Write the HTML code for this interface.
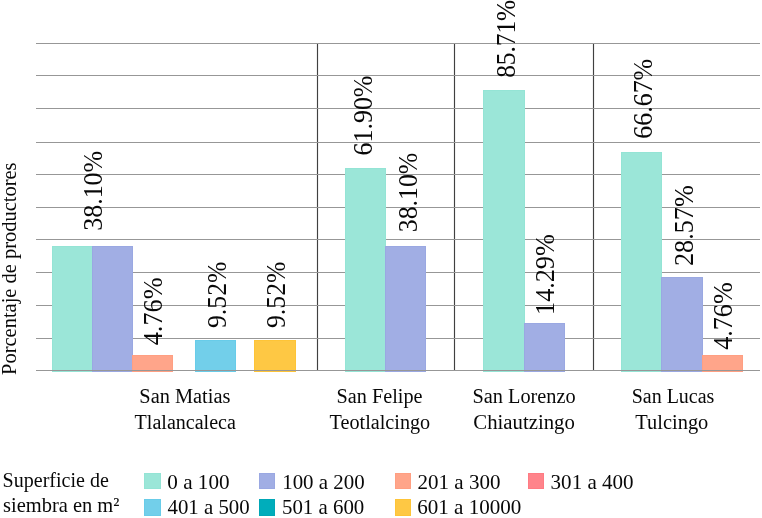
<!DOCTYPE html>
<html lang="es"><head><meta charset="utf-8"><title>Superficie de siembra</title>
<style>html,body{margin:0;padding:0;background:#fff}body{width:762px;height:518px;overflow:hidden}svg{display:block}text{font-family:"Liberation Serif",serif;fill:#080808}.v{font-size:26.6px}.c{font-size:21.6px;text-anchor:middle}.l{font-size:20.6px}</style></head><body>
<svg width="762" height="518" viewBox="0 0 762 518">
<rect width="762" height="518" fill="#fff"/>
<g fill="#404040">
<rect x="316.92" y="44" width="1.16" height="326.5"/>
<rect x="453.92" y="44" width="1.16" height="326.5"/>
<rect x="592.92" y="44" width="1.16" height="326.5"/>
</g>
<g fill="#979797">
<rect x="36" y="43" width="724" height="1"/>
<rect x="36" y="75" width="724" height="1"/>
<rect x="36" y="108" width="724" height="1"/>
<rect x="36" y="142" width="724" height="1"/>
<rect x="36" y="174" width="724" height="1"/>
<rect x="36" y="207" width="724" height="1"/>
<rect x="36" y="239" width="724" height="1"/>
<rect x="36" y="272" width="724" height="1"/>
<rect x="36" y="305" width="724" height="1"/>
<rect x="36" y="338" width="724" height="1"/>
</g>
<rect x="52.5" y="246.5" width="40" height="125" fill="#9be6d8" stroke="#94e4d5"/>
<rect x="92.5" y="246.5" width="40" height="125" fill="#a1aee4" stroke="#9aa8e2"/>
<rect x="132.5" y="355.5" width="40" height="16" fill="#ffa58a" stroke="#ff9f82"/>
<rect x="195.5" y="340.5" width="40" height="31" fill="#72cfea" stroke="#68cce9"/>
<rect x="254.5" y="340.5" width="41" height="31" fill="#fec844" stroke="#fec437"/>
<rect x="345.5" y="168.5" width="40" height="203" fill="#9be6d8" stroke="#94e4d5"/>
<rect x="385.5" y="246.5" width="40" height="125" fill="#a1aee4" stroke="#9aa8e2"/>
<rect x="483.5" y="90.5" width="41" height="281" fill="#9be6d8" stroke="#94e4d5"/>
<rect x="524.5" y="323.5" width="40" height="48" fill="#a1aee4" stroke="#9aa8e2"/>
<rect x="621.5" y="152.5" width="40" height="219" fill="#9be6d8" stroke="#94e4d5"/>
<rect x="661.5" y="277.5" width="41" height="94" fill="#a1aee4" stroke="#9aa8e2"/>
<rect x="702.5" y="355.5" width="40" height="16" fill="#ffa58a" stroke="#ff9f82"/>
<rect x="36" y="370" width="724" height="1" fill="#979797"/>
<text class="v" transform="translate(102.40,230.80) rotate(-90)" textLength="80.00" lengthAdjust="spacingAndGlyphs">38.10%</text>
<text class="v" transform="translate(162.40,345.30) rotate(-90)" textLength="67.80" lengthAdjust="spacingAndGlyphs">4.76%</text>
<text class="v" transform="translate(226.10,328.00) rotate(-90)" textLength="66.50" lengthAdjust="spacingAndGlyphs">9.52%</text>
<text class="v" transform="translate(284.70,328.00) rotate(-90)" textLength="66.50" lengthAdjust="spacingAndGlyphs">9.52%</text>
<text class="v" transform="translate(371.70,155.40) rotate(-90)" textLength="79.80" lengthAdjust="spacingAndGlyphs">61.90%</text>
<text class="v" transform="translate(417.20,232.20) rotate(-90)" textLength="79.50" lengthAdjust="spacingAndGlyphs">38.10%</text>
<text class="v" transform="translate(514.60,77.80) rotate(-90)" textLength="78.00" lengthAdjust="spacingAndGlyphs">85.71%</text>
<text class="v" transform="translate(554.00,314.90) rotate(-90)" textLength="80.60" lengthAdjust="spacingAndGlyphs">14.29%</text>
<text class="v" transform="translate(651.90,138.70) rotate(-90)" textLength="79.90" lengthAdjust="spacingAndGlyphs">66.67%</text>
<text class="v" transform="translate(692.70,266.00) rotate(-90)" textLength="80.70" lengthAdjust="spacingAndGlyphs">28.57%</text>
<text class="v" transform="translate(732.10,349.80) rotate(-90)" textLength="67.50" lengthAdjust="spacingAndGlyphs">4.76%</text>
<text class="l" transform="translate(16.2,374.9) rotate(-90)" textLength="212.5" lengthAdjust="spacingAndGlyphs">Porcentaje de productores</text>
<text class="c" x="184.85" y="403.1" textLength="91.1" lengthAdjust="spacingAndGlyphs">San Matias</text>
<text class="c" x="185.25" y="429.2" textLength="101.3" lengthAdjust="spacingAndGlyphs">Tlalancaleca</text>
<text class="c" x="379.55" y="403.1" textLength="85.9" lengthAdjust="spacingAndGlyphs">San Felipe</text>
<text class="c" x="379.9" y="429.2" textLength="100.6" lengthAdjust="spacingAndGlyphs">Teotlalcingo</text>
<text class="c" x="524.05" y="403.1" textLength="103.3" lengthAdjust="spacingAndGlyphs">San Lorenzo</text>
<text class="c" x="524.05" y="429.2" textLength="101.5" lengthAdjust="spacingAndGlyphs">Chiautzingo</text>
<text class="c" x="673.05" y="403.1" textLength="82.7" lengthAdjust="spacingAndGlyphs">San Lucas</text>
<text class="c" x="671.8" y="429.2" textLength="73" lengthAdjust="spacingAndGlyphs">Tulcingo</text>
<text class="l" x="2.6" y="486.5" textLength="106.2" lengthAdjust="spacingAndGlyphs">Superficie de</text>
<text class="l" x="3.0" y="511.6" textLength="116.4" lengthAdjust="spacingAndGlyphs">siembra en m²</text>
<rect x="144.5" y="473.5" width="16" height="15" fill="#9be6d8" stroke="#94e4d5"/>
<text class="l" x="167.3" y="488.7" textLength="62.3" lengthAdjust="spacingAndGlyphs">0 a 100</text>
<rect x="259.5" y="473.5" width="15" height="15" fill="#a1aee4" stroke="#9aa8e2"/>
<text class="l" x="282.2" y="488.7" textLength="82.4" lengthAdjust="spacingAndGlyphs">100 a 200</text>
<rect x="395.5" y="473.5" width="15" height="15" fill="#ffa58a" stroke="#ff9f82"/>
<text class="l" x="417.6" y="488.7" textLength="82.8" lengthAdjust="spacingAndGlyphs">201 a 300</text>
<rect x="528.5" y="473.5" width="15" height="15" fill="#ff848b" stroke="#ff7b83"/>
<text class="l" x="550.6" y="488.7" textLength="83" lengthAdjust="spacingAndGlyphs">301 a 400</text>
<rect x="144.5" y="499.5" width="16" height="16" fill="#72cfea" stroke="#68cce9"/>
<text class="l" x="167.5" y="514.4" textLength="82.2" lengthAdjust="spacingAndGlyphs">401 a 500</text>
<rect x="259.5" y="499.5" width="15" height="16" fill="#00adbb" stroke="#00a7b6"/>
<text class="l" x="282" y="514.4" textLength="82.3" lengthAdjust="spacingAndGlyphs">501 a 600</text>
<rect x="395.5" y="499.5" width="15" height="16" fill="#fec844" stroke="#fec437"/>
<text class="l" x="417.2" y="514.4" textLength="104.2" lengthAdjust="spacingAndGlyphs">601 a 10000</text>
</svg></body></html>
